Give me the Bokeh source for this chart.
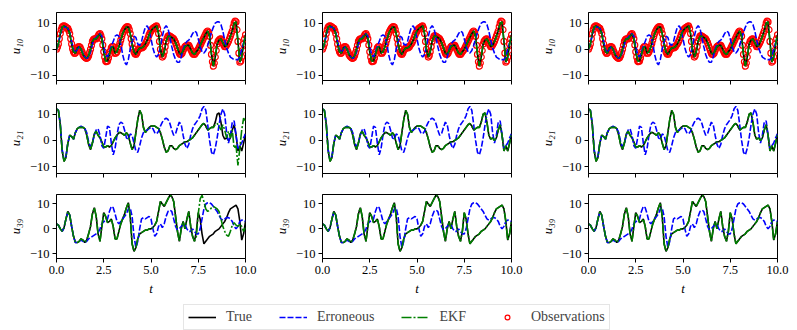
import numpy as np
from bokeh.plotting import figure
from bokeh.layouts import column, row
from bokeh.models import Range1d, FixedTicker, PrintfTickFormatter, Legend, LegendItem
from bokeh.embed import file_html
from bokeh.resources import INLINE

# ---------------- data (sampled every 0.1 time units) ----------------
t = np.round(np.arange(0, 101) * 0.1, 1)

true_u10 = [0, 2, 6, 8.5, 9, 8.5, 8, 6, 2, -1,
            -1.5, 0.5, 1, 0, -2, -3, -3.5, -2.5, 0, 3,
            4, 4, 5, 6, 4, -1, -4.5, -4.5, -2, 0.5,
            1, -1.5, -1, 1, 3.5, 6, 7.5, 8.5, 8.5, 6,
            2, -1, -2, -0.5, 0.5, 0.5, 1, 2, 3.5, 5.5,
            7, 8, 8.5, 9, 6, 0, -3, -1, 3, 5,
            5, 4.5, 4, 2.5, 0.5, -1.5, -2, -0.5, 1, 1.5,
            1.5, 0, -1.5, -2, -1, 0, 1.5, 3, 4.5, 6,
            7, 5, -2, -6.5, -3, 2, 3.5, 4, 2.5, 1,
            1.5, 3, 5, 7, 10, 10.5, 3, -5, -3, 2,
            5.5]

# observations of u10 taken half-way between the 0.1 samples (t = 0.05, 0.15, ...)
obs_u10_mid = [0.8, 4, 7.5, 8.9, 8.8, 8.2, 7.2, 4, 0.2, -1.5,
               -0.6, 0.9, 0.7, -1, -2.6, -3.4, -3.2, -1.3, 1.5, 3.7,
               4, 4.4, 5.7, 5.3, 1.6, -3, -4.8, -3.4, -0.7, 1,
               -0.3, -1.5, -0.1, 2.2, 4.8, 6.9, 8.1, 8.7, 7.5, 4,
               0.4, -1.7, -1.4, 0, 0.6, 0.7, 1.5, 2.7, 4.5, 6.3,
               7.6, 8.3, 8.8, 8, 3, -1.8, -2.4, 1, 4.2, 5.2,
               4.8, 4.3, 3.3, 1.5, -0.6, -2, -1.4, 0.3, 1.3, 1.6,
               0.8, -0.8, -1.9, -1.6, -0.5, 0.7, 2.2, 3.7, 5.2, 6.7,
               6.5, 1.5, -4.8, -5.3, -0.5, 3, 3.9, 3.3, 1.6, 1,
               2.2, 4, 6, 8.6, 10.8, 7.5, -1.5, -4.5, -0.5, 4]

err_u10 = [0, 2, 5.5, 8, 8.5, 8.5, 8, 6.5, 3, 0,
           -1.5, 0, 1, 0, -1.5, -3, -3.5, -3, -1, 2,
           4, 4.5, 5.5, 6, 5, 1, -2, -3, -1, 1,
           3, 5, 5.5, 5, 2, -2, -5, -6, -4, 0,
           3, 5, 4.5, 2, 1.5, 3, 6, 8.5, 9, 7.5,
           4, 0.5, -2, -3, -2, 1, 5, 8, 9, 8,
           4.5, 1, -2, -4, -5, -5, -3, 0, 2, 3,
           3.5, 4.5, 6, 7, 6.5, 4, 1, -1, -1.5, -0.5,
           1.5, 4, 6.5, 8.5, 10, 10.5, 10.5, 9.5, 7, 3.5,
           0.5, -1.5, -3, -3.5, -4, -4, -4, -3, 0, 2.5,
           4]

true_u21 = [12, 11.5, 6, -4, -8, -6.5, -1, 2, 1.5, 0.5,
            3, 4.5, 5, 5, 5, 4.5, 2, -1.5, -3.5, -1,
            2.5, 3.5, 2, 1, -0.5, -2.5, -2.5, -2, -2.5, -2,
            -0.5, 1, 2, 3, 3, 2.5, 2, 3, 2, -1,
            -3.5, -2, 3, 8, 11.5, 10, 5, 3, 4, 5,
            5.5, 5.5, 5.5, 5, 4.5, 3, 0.5, -2.5, -4.5, -4,
            -2, -2, -3, -3.5, -3, -2, -1.5, -1, -0.5, -0.5,
            0, 0.5, 1, 2, 3, 4, 5, 6, 6.5, 5.5,
            4, 4.5, 5, 5, 7, 10, 10.5, 7, 2, 0.5,
            1, 0, 1, 4, 6, 2, -4, -2, -4, -1,
            2.5]

err_u21 = [12, 11.5, 6.5, -3.5, -7.5, -6, -1, 2, 1.5, 0.5,
           3, 4.5, 5, 5.5, 5, 4.5, 3, -0.5, -2.5, -1,
           2, 4, 4.5, 2, -2, -3, 1, 5.5, 5, -1,
           -5.5, -3, 2, 6, 7, 6.5, 4, 1, 0.5, 2.5,
           2, -1, -4, -4.5, -2, 1, 3, 3.5, 4, 4.5,
           5, 4.5, 3, 2.5, 3.5, 5.5, 7, 8, 8.5, 8,
           6.5, 4, 2, 2.5, 5, 7, 6, 2, -1.5, -3,
           -1.5, 2, 4.5, 6, 7, 8, 9.5, 12, 13, 11.5,
           6, 0, -4.5, -5.5, -3, 1, 6, 10, 12, 10,
           3, -1, 2, 7, 7.5, 2, -3, -2, -1, 1,
           2.5]

true_u39 = [2, 1.5, 0, -1, 0.5, 4, 7, 5.5, 1, -3,
            -5.5, -5.5, -5, -4, -4.5, -5.5, -4.5, -2, 1, 6,
            8.5, 5, -2, -5, 1, 6.5, 5, 2.5, 3, 4,
            1, -4, -4, -1, 2, 4, 6, 8.5, 10.5, 5,
            -6, -9, -7.5, -4, -2, -1.5, -1, -0.5, -0.5, 0,
            0, 0.5, 1.5, 3, 7, 11, 10, 9, 10.5, 12,
            13.5, 13, 11, 5, -1, -5, 0, 3, 0, 4,
            7, 1, -3, -5, -1, 6.5, 4, -2, -6, -5,
            -4, -3, -2.5, -2, -1, -0.5, 0, 1, 2, 3,
            4.5, 6.5, 8, 8.5, 9, 9.5, 8, 3, -4.5, -2,
            3]

err_u39 = [2, 1.5, 0, -1, 0.5, 4, 6.5, 5.5, 1, -3,
           -5.5, -5.5, -5, -4.5, -5, -5.5, -5, -4, -3.5, -3,
           -2.5, -2, -1.5, 0, 2, 3, 3, 4, 7, 9,
           8.5, 6, 3, 2, 3, 4, 5, 6, 8, 8.5,
           5, -3, -7.5, -5, 0, 4, 4.5, 4, 4.5, 5,
           4, 0, -3, -2, 1, 2, 0.5, 2, 5, 7,
           7.5, 7, 4, 1, -0.5, 0, 1, 2, 1.5, 0,
           -1, -1, 0, -1, -2, -2, 0, 4, 8, 10,
           10.5, 10.5, 10, 9, 8, 7, 5.5, 4, 3.5, 4,
           4.5, 4.5, 4, 3, 1, 0, 1, 3, 3.5, 3.5,
           3]

# EKF of the first experiment departs from the truth near the end
ekf1_u21_tail = [5, 6, 6.5, 5.5, 4, 6, 4,
                 1, 3.5, 1, 4, -3, -2, -9.5, -3, 4, 8.5,
                 7.5]                      # t = 8.3 ... 10.0
ekf1_u39_tail = [-5, -3, 6, 12, 13.5, 11, 8,
                 7, 7.5, 8.5, 9, 8.5, 8, 7, 4, 1, -1,
                 -2.5, -3, -1, 1.5, 2.5, 1.5, 1, 2, 1, -1,
                 0.5]                      # t = 7.3 ... 10.0

ekf1_u10 = list(true_u10)
ekf1_u21 = list(true_u21[:83]) + ekf1_u21_tail
ekf1_u39 = list(true_u39[:73]) + ekf1_u39_tail

# observation times every 0.05 and their values
obs_t = np.round(np.arange(0, 201) * 0.05, 2)
obs_u10 = []
for a, b in zip(true_u10[:-1], obs_u10_mid):
    obs_u10 += [a, b]
obs_u10.append(true_u10[-1])

x_ticks = [0, 2.5, 5, 7.5, 10]
y_ticks = [-10, 0, 10]
y_tick_labels = {-10: "\u221210", 0: "0", 10: "10"}
ylabels = ["u\u2081\u2080", "u\u2082\u2081", "u\u2083\u2089"]
yranges = [(-12.0, 14.1), (-12.6, 14.1), (-11.9, 13.8)]
legend_labels = ["True", "Erroneous", "EKF", "Observations"]

ekf_sets = [
    [ekf1_u10, ekf1_u21, ekf1_u39],
    [true_u10, true_u21, true_u39],
    [true_u10, true_u21, true_u39],
]
true_set = [true_u10, true_u21, true_u39]
err_set = [err_u10, err_u21, err_u39]

FONT = "Liberation Serif"
FW = 189
FH = [68, 70, 68]
TOP = [12, 4, 4]
BOT = [19, 17, 36]
LEFT = [56, 65, 65]
DASH = "6 2"
DASHDOT = "10 2 2 2"


def panel(c, r):
    left = LEFT[c]
    right = 12
    p = figure(width=left + FW + right, height=TOP[r] + FH[r] + BOT[r],
               x_range=Range1d(0, 10), y_range=Range1d(*yranges[r]),
               toolbar_location=None, output_backend="svg",
               min_border_left=left, min_border_right=right,
               min_border_top=TOP[r], min_border_bottom=BOT[r])
    p.grid.visible = False
    p.outline_line_color = "black"
    p.outline_line_width = 1
    p.background_fill_color = "white"
    for ax in (p.xaxis, p.yaxis):
        ax.axis_line_color = "black"
        ax.major_tick_line_color = "black"
        ax.major_tick_out = 4
        ax.major_tick_in = 0
        ax.minor_tick_out = 0
        ax.minor_tick_in = 0
        ax.major_label_text_font = FONT
        ax.major_label_text_font_size = "12.5px"
        ax.major_label_text_color = "black"
        ax.major_label_standoff = 3
        ax.axis_label_text_font = FONT
        ax.axis_label_text_font_size = "13px"
        ax.axis_label_text_font_style = "italic"
        ax.axis_label_text_color = "black"
        ax.axis_label_standoff = 4
    p.xaxis.ticker = FixedTicker(ticks=x_ticks)
    p.xaxis.formatter = PrintfTickFormatter(format="%.1f")
    p.yaxis.ticker = FixedTicker(ticks=y_ticks)
    p.yaxis.major_label_overrides = y_tick_labels
    p.yaxis.axis_label = ylabels[r]
    if r == 2:
        p.xaxis.axis_label = "t"
    else:
        p.xaxis.major_label_overrides = {tk: "" for tk in x_ticks}

    if r == 0:
        p.scatter(obs_t, obs_u10, marker="circle", size=6, fill_color=None,
                  line_color="red", line_width=1.2)
    p.line(t, true_set[r], line_color="black", line_width=1.6)
    p.line(t, err_set[r], line_color="blue", line_width=1.6, line_dash=DASH)
    p.line(t, ekf_sets[c][r], line_color="green", line_width=1.6, line_dash=DASHDOT)
    return p


rows = []
for r in range(3):
    rows.append(row(*[panel(c, r) for c in range(3)]))

leg = figure(width=789, height=32, x_range=Range1d(0, 1), y_range=Range1d(0, 1),
             toolbar_location=None, output_backend="svg",
             x_axis_type=None, y_axis_type=None, min_border=0)
leg.grid.visible = False
leg.outline_line_color = None
r1 = leg.line([-5, -4], [-5, -5], line_color="black", line_width=1.6)
r2 = leg.line([-5, -4], [-5, -5], line_color="blue", line_width=1.6, line_dash=DASH)
r3 = leg.line([-5, -4], [-5, -5], line_color="green", line_width=1.6, line_dash=DASHDOT)
r4 = leg.scatter([-5], [-5], marker="circle", size=5, fill_color=None,
                 line_color="red", line_width=1.2)
legend = Legend(items=[LegendItem(label=lab, renderers=[rr])
                       for lab, rr in zip(legend_labels, [r1, r2, r3, r4])],
                orientation="horizontal", location=(183, 0),
                label_text_font=FONT, label_text_font_size="14px",
                glyph_width=28, glyph_height=12, label_height=12,
                label_standoff=10, spacing=27, padding=4, margin=0,
                border_line_color="#cccccc", border_line_width=1,
                background_fill_alpha=1)
leg.add_layout(legend, "center")

layout = column(*rows, leg)
open("out.html", "w").write(file_html(layout, INLINE))
